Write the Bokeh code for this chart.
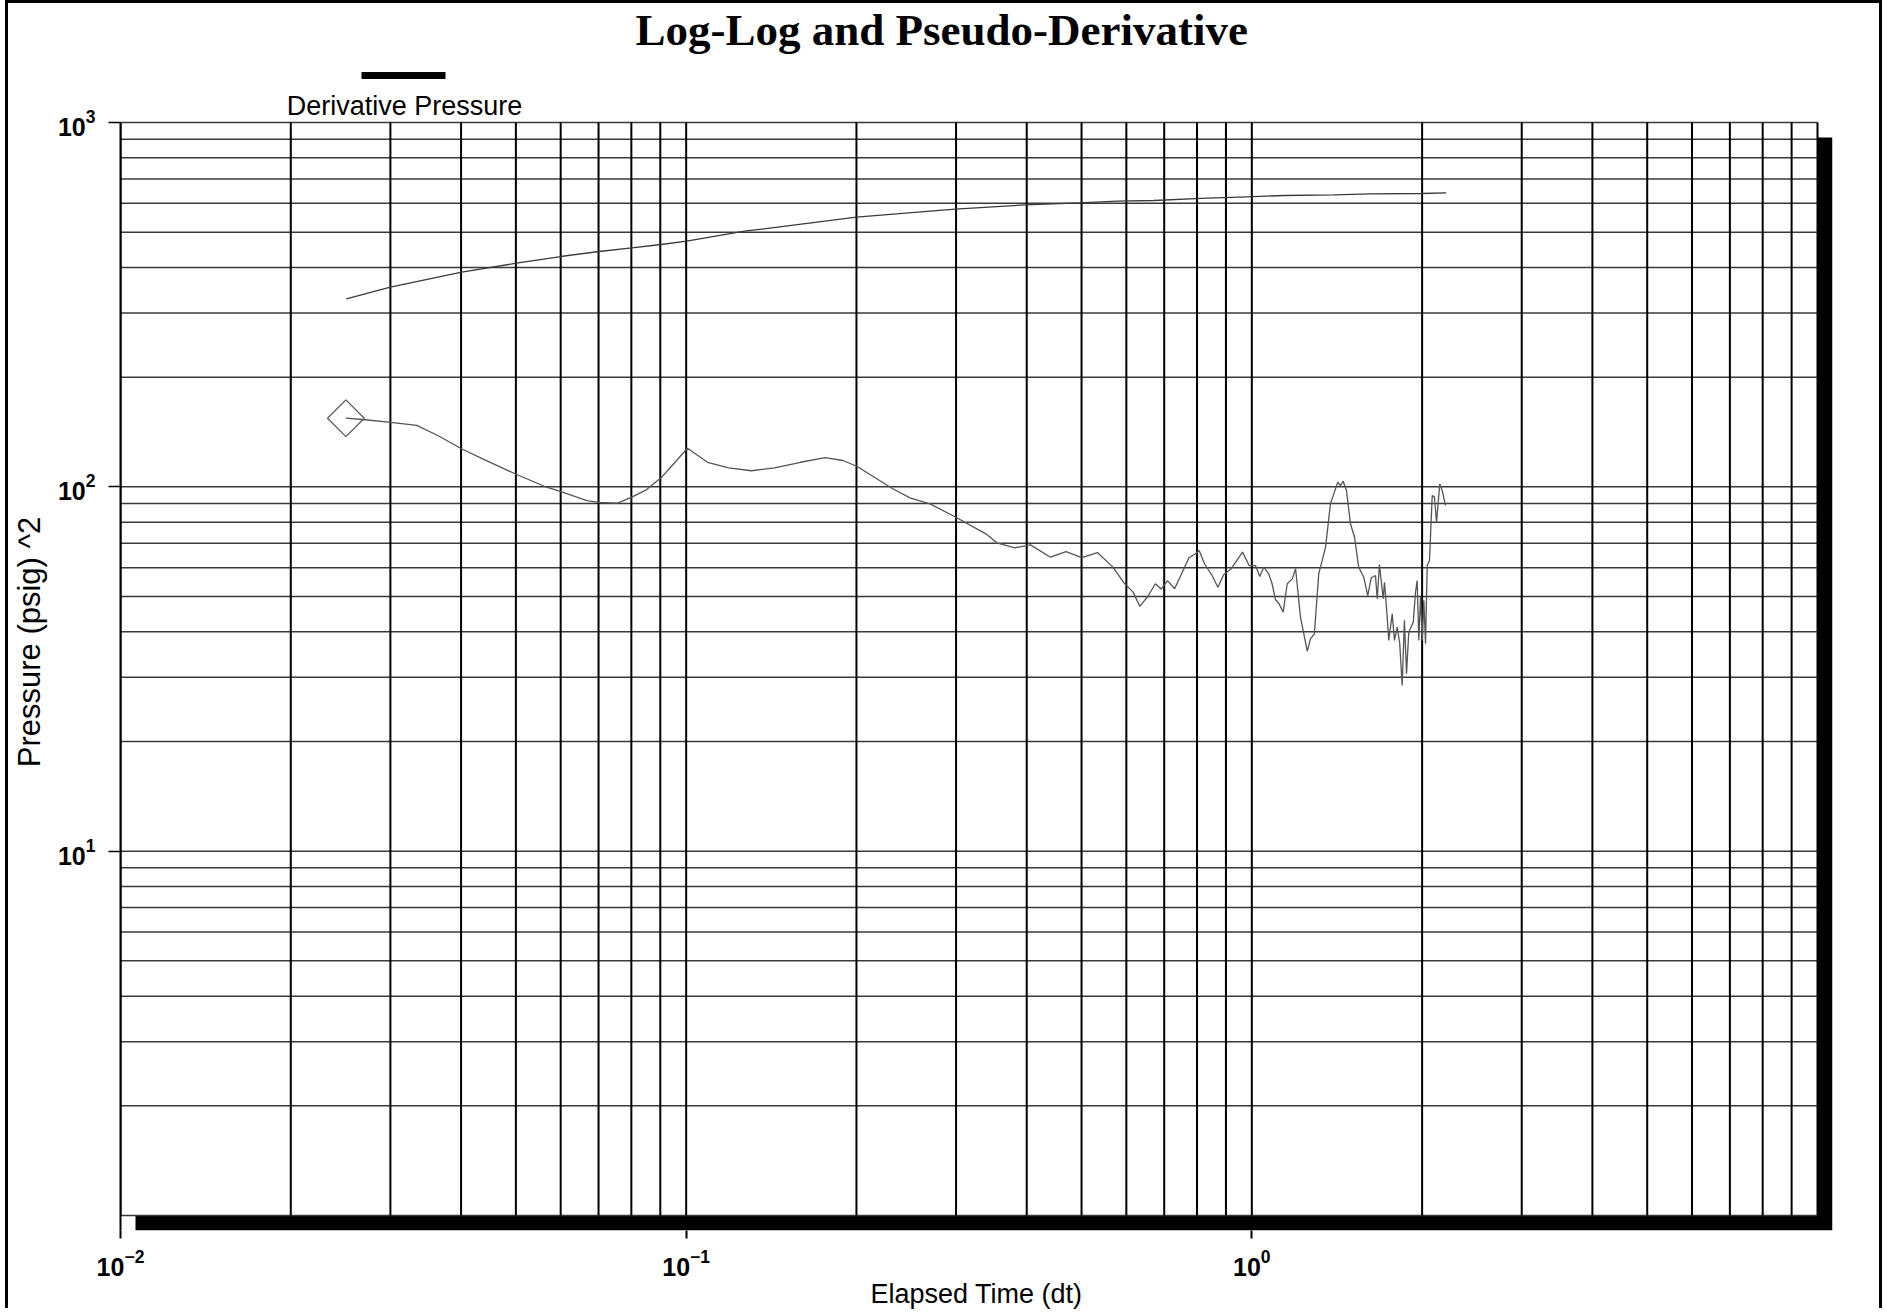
from math import log10
import numpy as np
from bokeh.plotting import figure
from bokeh.models import Range1d, FixedTicker, LogTickFormatter
from bokeh.core.properties import value
from bokeh.embed import file_html
from bokeh.resources import INLINE

# ---------------- data ----------------
pressure_dt = [0.02508, 0.0300, 0.0401, 0.0501, 0.0600, 0.07015, 0.0802, 0.0903, 0.1002,
               0.1268, 0.2000, 0.2988, 0.3980, 0.4966, 0.5781, 0.6709, 0.8336, 0.9813,
               1.139, 1.396, 1.620, 1.993, 2.206]
pressure_val = [328.2, 353.2, 388.2, 410.9, 428.7, 442.5, 453.0, 462.5, 472.3,
                503.0, 549.6, 578.1, 594.4, 602.0, 608.1, 610.8, 619.7, 625.2,
                630.4, 633.2, 637.2, 638.4, 641.2]

deriv_dt = [0.02503, 0.02706, 0.03005, 0.03340, 0.03638, 0.04007, 0.04386, 0.05016, 0.05627, 0.05989,
            0.06677, 0.0700, 0.07563, 0.08015, 0.08502, 0.09052, 0.09559, 0.1005, 0.1091, 0.1189,
            0.1305, 0.1433, 0.1593, 0.1760, 0.1893, 0.2006, 0.2311, 0.2486, 0.2698, 0.2981,
            0.3386, 0.3542, 0.3810, 0.4061, 0.4406, 0.4695, 0.5006, 0.5333, 0.5682, 0.5947,
            0.6167, 0.6337, 0.6547, 0.6753, 0.6914, 0.7094, 0.7302, 0.7464, 0.7740, 0.7953,
            0.8071, 0.8247, 0.8506, 0.8709, 0.8917, 0.9197, 0.9627, 0.9893, 1.015, 1.033,
            1.050, 1.071, 1.086, 1.101, 1.116, 1.136, 1.155, 1.179, 1.195, 1.219,
            1.253, 1.270, 1.290, 1.313, 1.350, 1.377, 1.419, 1.434, 1.450, 1.470,
            1.494, 1.519, 1.545, 1.577, 1.603, 1.626, 1.654, 1.666, 1.681, 1.707,
            1.716, 1.735, 1.746, 1.771, 1.787, 1.807, 1.826, 1.844, 1.861, 1.877,
            1.894, 1.929, 1.947, 1.960, 1.973, 1.987, 2.001, 2.014, 2.028, 2.042,
            2.061, 2.084, 2.103, 2.121, 2.149, 2.170, 2.200]
deriv_val = [154.3, 152.8, 150.2, 147.4, 138.3, 127.2, 118.9, 108.1, 100.2, 97.1,
             91.7, 90.6, 90.2, 93.7, 98.1, 106.3, 116.8, 127.6, 116.8, 112.8,
             110.7, 112.8, 116.8, 120.2, 118.1, 113.7, 99.1, 93.3, 89.8, 82.9,
             74.3, 70.2, 68.0, 69.3, 64.1, 66.4, 63.9, 66.0, 60.2, 54.4,
             51.4, 47.0, 50.0, 54.2, 52.4, 55.3, 52.5, 56.5, 63.9, 65.5,
             66.9, 61.5, 57.1, 53.0, 57.4, 59.6, 66.2, 60.8, 60.8, 56.7,
             60.2, 57.7, 54.2, 49.0, 47.9, 45.3, 54.2, 55.9, 59.6, 43.9,
             35.4, 38.3, 39.5, 57.7, 68.3, 89.8, 103.0, 100.8, 103.6, 97.7,
             79.2, 72.7, 60.2, 56.5, 50.3, 56.3, 57.1, 49.3, 61.2, 49.3,
             54.7, 43.9, 37.9, 44.8, 37.9, 41.2, 37.1, 28.5, 43.0, 30.7,
             39.9, 42.5, 51.4, 55.3, 37.9, 49.8, 37.9, 48.8, 37.1, 60.8,
             62.8, 94.7, 93.7, 80.0, 101.9, 97.7, 88.9]

x_ticks = [0.01, 0.1, 1.0]
y_ticks = [10.0, 100.0, 1000.0]
legend_label = "Derivative Pressure"

# axis extents of the plotting area
X_LO, X_HI = 0.01, 10.0
Y_LO, Y_HI = 1.0, 1000.0

# ---------------- layout (pixels) ----------------
PAGE_DX, PAGE_DY = 8, 3               # figure offset on the page (for the frame border)
LEFT_PX, TOP_PX = 120, 122            # plot-area corner on the page
PLOT_W_PX, PLOT_H_PX = 1697, 1093     # white plotting area
SHADOW_PX = 15                        # black drop shadow
TITLE_PX = 50                         # title band height
TOP_PAD_PX = TOP_PX - PAGE_DY - TITLE_PX   # legend strip above the plot area
ppdx = PLOT_W_PX / log10(X_HI / X_LO)
ppdy = PLOT_H_PX / log10(Y_HI / Y_LO)
x_end = X_HI * 10 ** (SHADOW_PX / ppdx)
y_start = Y_LO / 10 ** (SHADOW_PX / ppdy)
y_end = Y_HI * 10 ** (TOP_PAD_PX / ppdy)

def px_to_x(px):   # pixels right of the plot-area left edge -> data x
    return X_LO * 10 ** (px / ppdx)

def px_to_y(px):   # pixels above the plot-area top edge -> data y
    return Y_HI * 10 ** (px / ppdy)

p = figure(frame_width=PLOT_W_PX + SHADOW_PX, frame_height=TOP_PAD_PX + PLOT_H_PX + SHADOW_PX,
           x_axis_type="log", y_axis_type="log",
           x_range=Range1d(X_LO, x_end), y_range=Range1d(y_start, y_end),
           min_border_left=LEFT_PX - PAGE_DX, min_border_right=47,
           min_border_top=TITLE_PX, min_border_bottom=80,
           output_backend="svg", toolbar_location=None,
           background_fill_color="white", border_fill_color="white", outline_line_color=None,
           styles={"margin-left": f"{PAGE_DX}px", "margin-top": f"{PAGE_DY}px",
                   "box-shadow": "-3px -3px 0 0 black, 3px -3px 0 0 black"})
p.xgrid.visible = False
p.ygrid.visible = False

# title
p.title.text = "Log-Log and Pseudo-Derivative"
p.title.text_font = "Liberation Serif"
p.title.text_font_size = "45px"
p.title.text_font_style = "bold"
p.title.text_color = "black"
p.title.align = "left"
p.title.vertical_align = "bottom"
p.title.offset = 515
p.title.standoff = -2

# drop shadow + white plotting area
p.quad(left=[px_to_x(SHADOW_PX)], right=[x_end], bottom=[y_start], top=[px_to_y(-SHADOW_PX)],
       fill_color="black", line_color=None)
p.quad(left=[X_LO], right=[X_HI], bottom=[Y_LO], top=[Y_HI], fill_color="white", line_color=None)

# grid lines (log decades)
hy = [k * 10.0 ** e for e in (0, 1, 2) for k in range(1, 10)] + [Y_HI]
p.segment(x0=[X_LO] * len(hy), y0=hy, x1=[X_HI] * len(hy), y1=hy, line_color="#3a3a3a", line_width=1.5)
vx = [k * 10.0 ** e for e in (-2, -1, 0) for k in range(1, 10)] + [X_HI]
p.segment(x0=vx, y0=[Y_LO] * len(vx), x1=vx, y1=[Y_HI] * len(vx), line_color="black", line_width=2)

# data
p.line(pressure_dt, pressure_val, line_color="#3a3a3a", line_width=1.3)
p.line(deriv_dt, deriv_val, line_color="#555555", line_width=1.3)
p.scatter([deriv_dt[0]], [deriv_val[0]], marker="square", angle=np.pi / 4, size=26,
          fill_color=None, line_color="#555555", line_width=1.2)

# legend (swatch above label)
p.line([px_to_x(241), px_to_x(325)], [px_to_y(47), px_to_y(47)], line_color="black", line_width=7)
p.text(x=[px_to_x(284)], y=[px_to_y(17)], text=[legend_label], text_align="center",
       text_baseline="alphabetic", text_font=value("Liberation Sans"), text_font_size="27px",
       text_color="black")

# axes
xa = p.xaxis[0]
xa.ticker = FixedTicker(ticks=x_ticks)
xa.formatter = LogTickFormatter()
xa.axis_line_color = None
xa.major_tick_line_color = "black"
xa.major_tick_line_width = 2
xa.major_tick_out = 8
xa.major_tick_in = 0
xa.minor_tick_out = 0
xa.minor_tick_in = 0
xa.major_label_standoff = 10
xa.major_label_text_font = "Liberation Sans"
xa.major_label_text_font_size = "25px"
xa.major_label_text_font_style = "bold"
xa.major_label_text_color = "black"
xa.axis_label = "Elapsed Time (dt)"
xa.axis_label_text_font = "Liberation Sans"
xa.axis_label_text_font_size = "27px"
xa.axis_label_text_font_style = "normal"
xa.axis_label_text_color = "black"
xa.axis_label_standoff = 0

ya = p.yaxis[0]
ya.ticker = FixedTicker(ticks=y_ticks)
ya.formatter = LogTickFormatter()
ya.bounds = (y_start, Y_HI)
ya.axis_line_color = "black"
ya.axis_line_width = 2
ya.major_tick_line_color = "black"
ya.major_tick_line_width = 1.5
ya.major_tick_out = 12
ya.major_tick_in = 0
ya.minor_tick_out = 0
ya.minor_tick_in = 0
ya.major_label_standoff = 13
ya.major_label_text_font = "Liberation Sans"
ya.major_label_text_font_size = "25px"
ya.major_label_text_font_style = "bold"
ya.major_label_text_color = "black"
ya.axis_label = "Pressure (psig) ^2"
ya.axis_label_text_font = "Liberation Sans"
ya.axis_label_text_font_size = "31px"
ya.axis_label_text_font_style = "normal"
ya.axis_label_text_color = "black"
ya.axis_label_standoff = 8

open("out.html", "w").write(file_html(p, INLINE))
